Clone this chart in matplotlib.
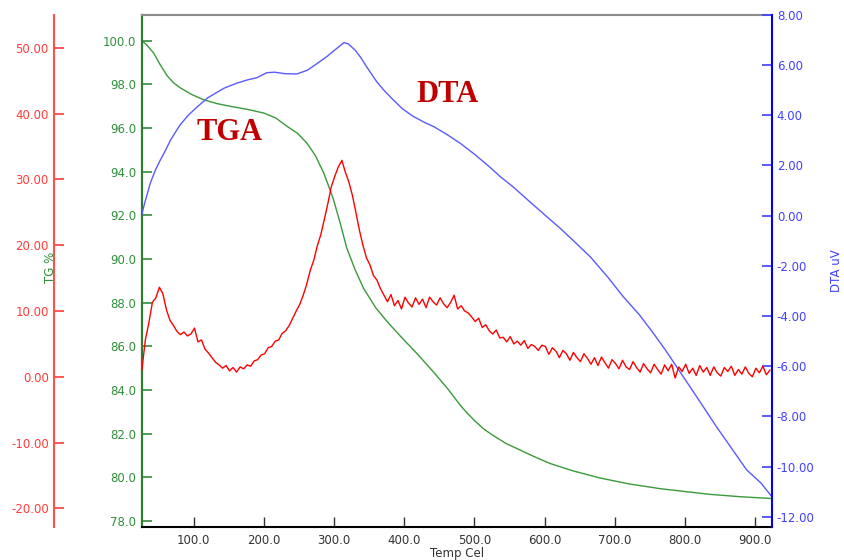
import matplotlib
matplotlib.use("Agg")
import matplotlib.pyplot as plt
from matplotlib.ticker import FormatStrFormatter, FixedLocator

plt.rcParams['font.family'] = ['DejaVu Sans']

# ---- TG (%) curve ----
tg_temp = [25.5, 33, 43, 52, 62, 71, 81, 97, 114, 132, 152, 176, 200, 217, 233, 248,
           261, 273, 285, 292, 299, 309, 318, 330, 342, 359, 375, 394, 420, 442, 462,
           480, 490, 500, 513, 525, 545, 561, 585, 608, 640, 679, 720, 765, 800, 836,
           880, 924]
tg_val = [100.0, 99.8, 99.42, 98.9, 98.39, 98.07, 97.83, 97.53, 97.29, 97.12, 96.99,
          96.85, 96.68, 96.45, 96.07, 95.75, 95.31, 94.75, 93.95, 93.35, 92.73, 91.6,
          90.5, 89.5, 88.65, 87.78, 87.15, 86.48, 85.6, 84.81, 84.05, 83.29, 82.93,
          82.6, 82.22, 81.95, 81.55, 81.31, 80.95, 80.63, 80.3, 79.97, 79.7, 79.48,
          79.35, 79.22, 79.11, 79.03]

# ---- DTA (uV) curve ----
dta_temp = [25.5, 30, 34, 38, 45, 52, 60, 67, 80, 92, 105, 120, 143, 160, 176, 190, 204,
            215, 230, 247, 262, 276, 290, 303, 314, 320, 330, 338, 346, 352, 361, 371,
            383, 397, 412, 430, 442, 460, 480, 500, 520, 537, 555, 575, 603, 622, 643,
            665, 690, 712, 735, 755, 772, 788, 815, 845, 867, 888, 908, 924]
dta_val = [0.0, 0.5, 0.89, 1.29, 1.8, 2.2, 2.62, 3.02, 3.6, 4.0, 4.34, 4.7, 5.08, 5.27,
           5.41, 5.5, 5.70, 5.72, 5.66, 5.65, 5.8, 6.07, 6.35, 6.65, 6.9, 6.85, 6.6, 6.3,
           5.95, 5.7, 5.33, 5.0, 4.65, 4.27, 3.97, 3.7, 3.55, 3.25, 2.88, 2.45, 1.98,
           1.55, 1.15, 0.65, -0.04, -0.50, -1.05, -1.64, -2.45, -3.23, -3.95, -4.69,
           -5.35, -6.02, -7.15, -8.42, -9.3, -10.14, -10.65, -11.21]

# ---- derivative signal (red axis), sampled every 5 degrees from 26 to 921 ----
dtg_temp = list(range(26, 922, 5))
dtg_val = [1.0, 5.6, 8.2, 11.3, 12.0, 13.6, 12.6, 10.2, 8.6, 7.8,
           6.9, 6.4, 6.8, 6.2, 6.5, 7.4, 5.3, 5.6, 4.2, 3.6,
           2.9, 2.2, 1.8, 1.3, 1.7, 0.9, 1.4, 0.7, 1.5, 1.2,
           1.8, 1.6, 2.4, 2.6, 3.3, 3.5, 4.4, 4.6, 5.4, 5.6,
           6.6, 7.0, 7.8, 8.9, 10.0, 11.0, 12.4, 14.1, 16.2, 17.7,
           19.9, 21.6, 23.9, 26.3, 28.9, 30.5, 31.9, 32.9, 31.1, 29.6,
           27.6, 25.0, 22.3, 20.0, 18.1, 17.0, 15.4, 14.7, 13.4, 12.4,
           11.4, 12.5, 10.8, 11.6, 10.3, 12.1, 11.2, 10.6, 12.0, 11.0,
           11.8, 10.5, 12.1, 11.4, 10.9, 12.0, 11.1, 10.5, 11.3, 12.4,
           10.3, 10.8, 10.0, 9.7, 9.1, 8.4, 8.9, 7.5, 7.9, 7.0,
           6.5, 7.1, 5.9, 6.0, 5.3, 6.1, 5.0, 5.4, 4.8, 5.5,
           4.3, 4.9, 4.6, 4.0, 4.8, 4.6, 3.4, 4.4, 3.9, 2.9,
           4.0, 3.5, 2.5, 3.7, 2.9, 2.3, 3.5, 2.8, 1.9, 2.9,
           1.7, 3.0, 2.1, 1.3, 2.6, 2.0, 1.2, 2.5, 1.5, 1.1,
           2.3, 1.4, 0.7, 2.0, 1.2, 0.6, 1.9, 1.1, 0.4, 1.8,
           0.9, 1.9, -0.2, 1.5, 0.8, 1.9, 0.5, 1.3, 0.2, 1.7,
           0.7, 1.4, 0.2, 1.5, 0.6, 0.1, 1.4, 0.8, 1.6, 0.2,
           1.1, 0.4, 1.5, 0.5, 0.0, 1.3, 0.6, 1.6, 0.3, 1.0]

x_ticks = [100, 200, 300, 400, 500, 600, 700, 800, 900]
tg_ticks = [78, 80, 82, 84, 86, 88, 90, 92, 94, 96, 98, 100]
dta_ticks = [-12, -10, -8, -6, -4, -2, 0, 2, 4, 6, 8]
red_ticks = [-20, -10, 0, 10, 20, 30, 40, 50]

GREEN = '#2f8f3a'
GREEN_LINE = '#3a9a3a'
BLUE = '#0000ff'
BLUE_TXT = '#4040ff'
BLUE_LINE = '#5a5aff'
RED = '#ff0000'
RED_TXT = '#ff3b3b'
FS = 8.5

W, H = 844, 560
fig = plt.figure(figsize=(W / 100, H / 100), dpi=100)
left, right, top, bottom = 141.5, 772, 15, 526.7
ax = fig.add_axes([left / W, 1 - bottom / H, (right - left) / W, (bottom - top) / H])

ax_dta = ax.twinx()
ax_red = ax.twinx()

# TG axis (inner left, green)
ax.plot(tg_temp, tg_val, color=GREEN_LINE, lw=1.0, zorder=2)
ax.set_xlim(25.5, 924)
ax.set_ylim(77.74, 101.17)
ax.yaxis.set_major_locator(FixedLocator(tg_ticks))
ax.yaxis.set_major_formatter(FormatStrFormatter('%.1f'))
ax.xaxis.set_major_locator(FixedLocator(x_ticks))
ax.xaxis.set_major_formatter(FormatStrFormatter('%.1f'))
ax.tick_params(axis='y', direction='in', length=7.5, width=1.2, colors=GREEN,
               labelsize=FS, pad=4)
ax.tick_params(axis='x', direction='in', length=7.5, width=1.0, colors='#333333',
               labelsize=FS, pad=5)
ax.spines['left'].set_color('#2e7d32')
ax.spines['left'].set_linewidth(1.6)
ax.spines['bottom'].set_color('black')
ax.spines['bottom'].set_linewidth(1.5)
ax.spines['top'].set_color('#8c8c8c')
ax.spines['top'].set_linewidth(1.5)
ax.spines['right'].set_visible(False)
ax.set_xlabel('Temp Cel', fontsize=FS, color='#333333', labelpad=0)

# DTA axis (right, blue)
ax_dta.plot(dta_temp, dta_val, color=BLUE_LINE, lw=1.0, zorder=2)
ax_dta.set_ylim(-12.4, 8.0)
ax_dta.yaxis.set_major_locator(FixedLocator(dta_ticks))
ax_dta.yaxis.set_major_formatter(FormatStrFormatter('%.2f'))
ax_dta.tick_params(axis='y', direction='in', length=7.5, width=1.2, colors=BLUE_TXT,
                   labelsize=FS, pad=3.5)
for s in ['left', 'top', 'bottom']:
    ax_dta.spines[s].set_visible(False)
ax_dta.spines['right'].set_color(BLUE)
ax_dta.spines['right'].set_linewidth(1.5)

# derivative axis (outer left, red)
ax_red.plot(dtg_temp, dtg_val, color=RED, lw=1.0, zorder=3)
ax_red.set_ylim(-22.8, 55.0)
ax_red.yaxis.set_ticks_position('left')
ax_red.yaxis.set_label_position('left')
ax_red.spines['left'].set_visible(True)
ax_red.spines['left'].set_position(('axes', -(left - 54.3) / (right - left)))
ax_red.spines['left'].set_color('#ff5050')
ax_red.spines['left'].set_linewidth(1.5)
for s in ['right', 'top', 'bottom']:
    ax_red.spines[s].set_visible(False)
ax_red.yaxis.set_major_locator(FixedLocator(red_ticks))
ax_red.yaxis.set_major_formatter(FormatStrFormatter('%.2f'))
ax_red.tick_params(axis='y', direction='in', length=7.5, width=1.2, colors=RED_TXT,
                   labelsize=FS, pad=4)

# axis titles
fig.text(50 / W, 1 - 267 / H, 'TG %', rotation=90, color=GREEN, fontsize=FS,
         ha='center', va='center')
fig.text(836 / W, 1 - 271 / H, 'DTA uV', rotation=90, color=BLUE_TXT, fontsize=FS,
         ha='center', va='center')

# curve labels
fig.text(230 / W, 1 - 132.5 / H, 'TGA', color='#c00000', fontsize=22,
         fontweight='bold', family='Liberation Serif', ha='center', va='center')
fig.text(447.5 / W, 1 - 94 / H, 'DTA', color='#c00000', fontsize=22,
         fontweight='bold', family='Liberation Serif', ha='center', va='center')

fig.savefig('out.png', dpi=100)
